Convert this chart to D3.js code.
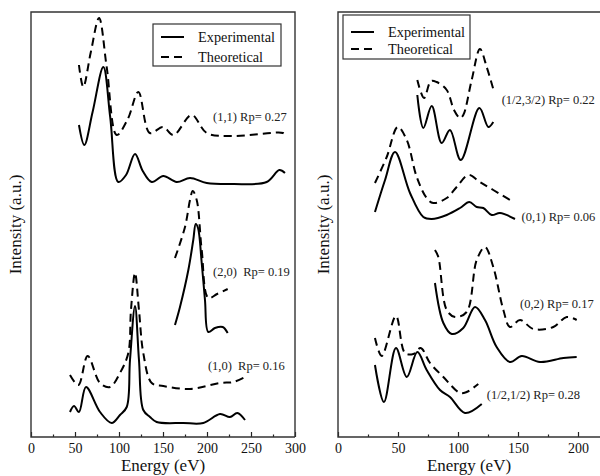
<!DOCTYPE html>
<html>
<head>
<meta charset="utf-8">
<script src="https://cdn.jsdelivr.net/npm/d3@7"></script>
<style>
  body { margin: 0; background: #fff; }
  svg text { font-family: "Liberation Serif", "Times New Roman", Times, "DejaVu Serif", serif; }
</style>
</head>
<body>
<svg id="chart" width="600" height="476"></svg>
<script>
// [energy (eV), intensity (a.u.)]
// left panel
var exp11 = [[54.5,312],[60.6,292],[70,325],[82.2,370],[90,320],[99.2,255],[108,262],[118.2,283],[127,266],[137.2,255],[150.3,261],[165.6,255],[180.7,259],[199.7,254],[229.9,253],[267.8,255],[282.2,267],[288.6,264]];
var theo11 = [[54.5,372],[59.4,350],[68,385],[77.3,419],[86,370],[97.4,302],[110,318],[122,345],[135,304],[150,310],[162,302],[182.6,322],[199.7,304],[229.5,301],[286.4,304],[288.6,302]];
var exp20 = [[163.6,112],[169.3,130],[178.8,167],[184.4,197],[187.2,213],[189.8,209],[194,174],[197.7,137],[201.5,105],[209,109],[217.8,110],[223.5,104]];
var theo20 = [[163.6,179],[175,210],[180.7,237],[183.8,246],[188.3,237],[194,187],[201.5,139],[211.4,143],[223.5,148]];
var exp10 = [[44.3,25],[48.9,31],[54.5,25],[62.5,50],[78.4,25],[91.7,14],[101.1,22],[108.8,30],[112.5,77],[118.2,131],[122.7,77],[127.6,27],[135.2,20],[142.8,15],[173.1,14],[195.8,14],[214.8,23],[226.1,20],[234.4,24],[243.2,17]];
var theo10 = [[44.3,62],[53.8,52],[64.4,81],[78.4,54],[89.8,50],[101.1,64],[110.6,84],[113.6,127],[118.2,164],[122.7,127],[127.6,84],[137.2,54],[150.3,51],[180.7,48],[214.8,54],[229.9,55],[243.2,60]];
// right panel
var exp3232 = [[66.1,342],[71.1,309],[78.1,331],[86.4,294],[93.3,307],[102.3,277],[117.8,329],[125.3,310],[129.4,315]];
var theo3232 = [[66.1,357],[71.7,339],[77.5,356],[82.2,355],[90.6,347],[96.7,327],[101.7,319],[104.4,322],[111.4,357],[118.3,388],[123.9,370],[129.4,348]];
var exp01 = [[30.8,225],[39.2,257],[47.5,285],[60,244],[71.1,220],[78.1,218],[90.6,222],[101.7,229],[109.4,235],[115.6,230],[121.1,229],[128.1,222],[135,224],[147.5,218]];
var theo01 = [[30.8,254],[40.6,280],[49.8,310],[57.3,297],[65.6,260],[73.9,239],[79.4,234],[90.6,239],[98.9,250],[108.6,262],[118.3,255],[129.4,247],[146.1,235]];
var exp02 = [[80.8,154],[87.8,114],[94.8,103],[104.4,109],[114.2,130],[122.5,117],[132.2,90],[143.3,75],[153.1,81],[168.3,75],[187.8,79],[198.9,80]];
var theo02 = [[80.8,187],[83.6,180],[90.6,127],[97.5,120],[107.2,125],[115.6,177],[122.5,190],[129.4,170],[137.8,127],[143.3,110],[151.7,117],[162.8,108],[179.4,110],[190.6,120],[198.9,117]];
var exp1212 = [[30.8,72],[38.3,35],[48.3,89],[57.3,60],[66.1,85],[73.9,67],[85,47],[93.3,40],[105.8,24],[119.8,33]];
var theo1212 = [[30.8,99],[36.4,81],[48.3,121],[55.8,84],[62.8,83],[68.9,89],[76.7,74],[87.8,60],[101.7,44],[107.2,45],[116.9,53]];

var leftTicks = [0, 50, 100, 150, 200, 250, 300];
var rightTicks = [0, 50, 100, 150, 200];
var legendNames = ["Experimental", "Theoretical"];

// labels: [text, energy, intensity]
var leftLabels = [["(1,1) Rp= 0.27", 206.8, 316], ["(2,0)  Rp= 0.19", 206.8, 161], ["(1,0)  Rp= 0.16", 201, 67]];
var rightLabels = [["(1/2,3/2) Rp= 0.22", 136.4, 333], ["(0,1) Rp= 0.06", 153, 216], ["(0,2) Rp= 0.17", 151.7, 129], ["(1/2,1/2) Rp= 0.28", 124, 38]];

var svg = d3.select("#chart");
var top0 = 12, bottom0 = 437;
var serif = '"Liberation Serif", "Times New Roman", Times, "DejaVu Serif", serif';

var yScale = d3.scaleLinear().domain([0, 425]).range([bottom0, top0]);

var panels = [
  { x0: 31, x1: 295, domain: [0, 300], ticks: leftTicks, minor: d3.range(25, 300, 50),
    exp: [exp11, exp20, exp10], theo: [theo11, theo20, theo10], labels: leftLabels,
    legend: { x: 153, y: 24, w: 128, h: 42, y1: 37, y2: 57 }, titleX: 16, closed: true },
  { x0: 338, x1: 638, domain: [0, 250], ticks: rightTicks, minor: d3.range(25, 250, 50),
    exp: [exp3232, exp01, exp02, exp1212], theo: [theo3232, theo01, theo02, theo1212], labels: rightLabels,
    legend: { x: 343, y: 15, w: 127, h: 44, y1: 32, y2: 49 }, titleX: 324, closed: false }
];

panels.forEach(function (p) {
  var xScale = d3.scaleLinear().domain(p.domain).range([p.x0, p.x1]);
  var g = svg.append("g");

  var line = d3.line()
    .x(function (d) { return xScale(d[0]); })
    .y(function (d) { return yScale(d[1]); })
    .curve(d3.curveCatmullRom.alpha(0.5));

  // minor ticks
  g.append("g")
    .attr("transform", "translate(0," + bottom0 + ")")
    .call(d3.axisBottom(xScale).tickValues(p.minor).tickSize(-2.5).tickFormat(""))
    .call(function (a) { a.select(".domain").remove(); a.selectAll("line").attr("stroke", "#222").attr("stroke-width", 1.2); });

  // major ticks
  var ax = g.append("g")
    .attr("transform", "translate(0," + bottom0 + ")")
    .call(d3.axisBottom(xScale).tickValues(p.ticks).tickSize(-5).tickPadding(6).tickFormat(d3.format("d")));
  ax.attr("font-family", serif);
  ax.select(".domain").remove();
  ax.selectAll("line").attr("stroke", "#222").attr("stroke-width", 1.2);
  ax.selectAll("text").attr("font-size", 14).attr("fill", "#111");

  // frame
  var frame = "M" + p.x1 + "," + bottom0 + "H" + p.x0 + "V" + top0 + "H" + p.x1;
  if (p.closed) frame += "V" + bottom0;
  g.append("path").attr("d", frame).attr("fill", "none").attr("stroke", "#333").attr("stroke-width", 1.4);

  p.theo.forEach(function (s) {
    g.append("path").datum(s).attr("d", line).attr("fill", "none")
      .attr("stroke", "#000").attr("stroke-width", 2).attr("stroke-dasharray", "8,5");
  });
  p.exp.forEach(function (s) {
    g.append("path").datum(s).attr("d", line).attr("fill", "none")
      .attr("stroke", "#000").attr("stroke-width", 2);
  });

  p.labels.forEach(function (l) {
    g.append("text").attr("x", xScale(l[1])).attr("y", yScale(l[2]))
      .attr("font-size", 12.5).attr("fill", "#222")
      .style("white-space", "pre").text(l[0]);
  });

  // legend
  var L = p.legend;
  var lg = g.append("g");
  lg.append("rect").attr("x", L.x).attr("y", L.y).attr("width", L.w).attr("height", L.h)
    .attr("fill", "#fff").attr("stroke", "#333").attr("stroke-width", 1.2);
  [L.y1, L.y2].forEach(function (yy, i) {
    lg.append("line").attr("x1", L.x + 8).attr("x2", L.x + 31).attr("y1", yy).attr("y2", yy)
      .attr("stroke", "#000").attr("stroke-width", 2).attr("stroke-dasharray", i ? "8,5" : null);
    lg.append("text").attr("x", L.x + 45).attr("y", yy + 5).attr("font-size", 14.3).attr("fill", "#111").text(legendNames[i]);
  });

  // axis titles
  g.append("text").attr("x", (p.x0 + Math.min(p.x1, 600)) / 2).attr("y", 471)
    .attr("text-anchor", "middle").attr("font-size", 17).attr("fill", "#111").text("Energy (eV)");
  g.append("text").attr("transform", "translate(" + (p.titleX + 5) + "," + ((top0 + bottom0) / 2) + ") rotate(-90)")
    .attr("text-anchor", "middle").attr("font-size", 17).attr("fill", "#111").text("Intensity (a.u.)");
});
</script>
</body>
</html>
